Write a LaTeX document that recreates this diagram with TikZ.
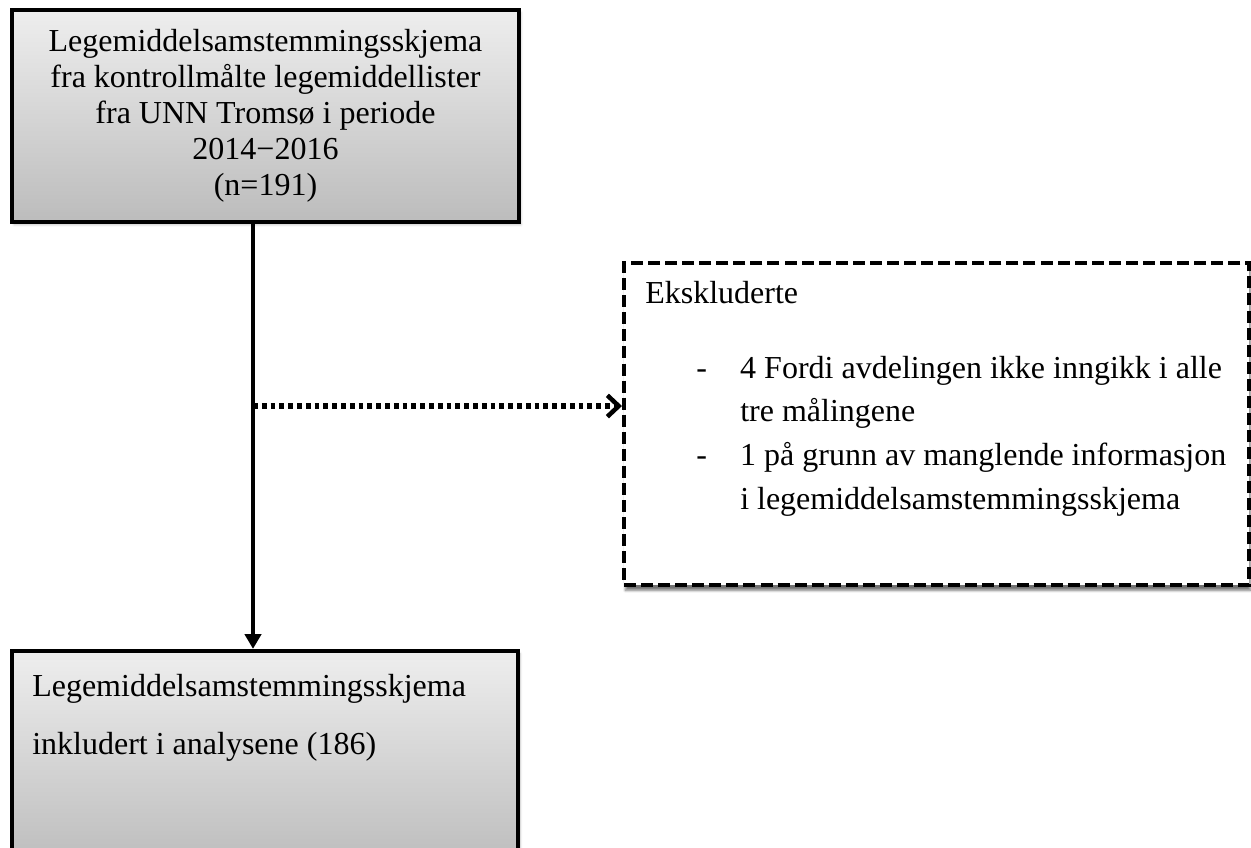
\documentclass[tikz,border=0pt]{standalone}
\usepackage{fontspec}
\setmainfont{Liberation Serif}
\usetikzlibrary{arrows.meta,shadows.blur}
\definecolor{boxtop}{RGB}{238,238,238}
\definecolor{boxbottom}{RGB}{188,188,188}
\tikzset{
  greybox/.style={rectangle, draw=black, line width=3.2pt,
    top color=boxtop, bottom color=boxbottom, inner sep=0pt,
    blur shadow={shadow xshift=1.5pt, shadow yshift=-2pt, shadow blur steps=6, shadow opacity=25}},
  exclbox/.style={rectangle, draw=black, fill=white, line width=3pt,
    dash pattern=on 9pt off 3.8pt, inner sep=0pt,
    blur shadow={shadow xshift=1pt, shadow yshift=-4pt, shadow blur steps=6, shadow opacity=55}},
  bodytext/.style={font=\fontsize{24}{27}\selectfont},
  flowline/.style={line width=3pt, -{Triangle[length=11pt,width=12pt]}},
  exclline/.style={line width=3.8pt, dash pattern=on 3.6pt off 3pt,
    -{Straight Barb[length=8.5pt,width=16pt,line width=3.4pt]}},
}
\begin{document}
\begin{tikzpicture}[x=0.75pt,y=-0.75pt]
\useasboundingbox (0,0) rectangle (1251,847);
\clip (0,0) rectangle (1251,847);

% source population
\node[greybox, minimum width=380pt, minimum height=159pt, align=center, bodytext]
  (source) at (265.5,116)
  {Legemiddelsamstemmingsskjema\\fra kontrollmålte legemiddellister\\fra UNN Tromsø i periode\\2014−2016\\(n=191)};

% included records (box runs past the lower page edge)
\node[greybox, minimum width=379.5pt, minimum height=162pt] (included) at (265,759) {};
\node[anchor=base west, inner sep=0pt, font=\fontsize{24}{44.2}\selectfont] (includedtext) at (32,696)
  {\begin{tabular}[t]{@{}l@{}}Legemiddelsamstemmingsskjema\\inkludert i analysene (186)\end{tabular}};

% exclusions
\node[exclbox, minimum width=468.75pt, minimum height=241.5pt] (excluded) at (936.5,424) {};
\node[anchor=base west, inner sep=0pt, bodytext] (excltitle) at (645,303) {Ekskluderte};
\node[anchor=base west, inner sep=0pt, font=\fontsize{24}{32.8}\selectfont] (excllist) at (696,378)
  {\begin{tabular}[t]{@{}p{33pt}@{}l@{}}
   - & 4 Fordi avdelingen ikke inngikk i alle\\
     & tre målingene\\
   - & 1 på grunn av manglende informasjon\\
     & i legemiddelsamstemmingsskjema
   \end{tabular}};

% connectors
\coordinate (spine) at (253,0);
\coordinate (branch) at (253,406);
\draw[flowline] (source.south -| spine) -- (included.north -| spine);
\draw[exclline] (branch) -- (excluded.west |- branch);
\end{tikzpicture}
\end{document}
